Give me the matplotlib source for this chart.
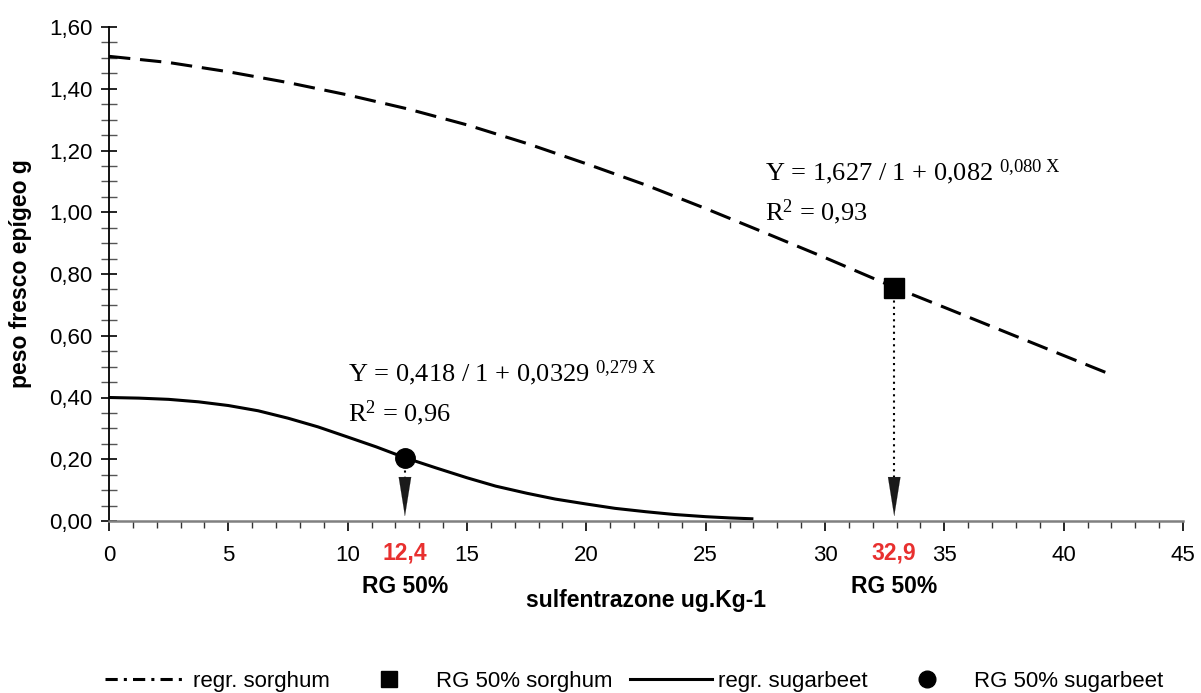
import matplotlib
matplotlib.use("Agg")
import matplotlib.pyplot as plt
from matplotlib.lines import Line2D
from matplotlib.ticker import MultipleLocator, FuncFormatter

# ---- data ----
sorghum_x = [0, 2.5, 5, 7.5, 10, 12.5, 15, 17.5, 20, 22.5, 25, 27.5, 30, 32.9, 35, 37.5, 40, 41.8]
sorghum_y = [1.505, 1.485, 1.455, 1.420, 1.380, 1.335, 1.283, 1.223, 1.157, 1.088, 1.012, 0.933,
             0.853, 0.757, 0.692, 0.614, 0.536, 0.480]
sugarbeet_x = [0, 1.25, 2.5, 3.75, 5, 6.25, 7.5, 8.75, 10, 11.2, 12.4, 13.7, 15, 16.2, 17.5,
               18.7, 20, 21.2, 22.5, 23.7, 25, 26, 27]
sugarbeet_y = [0.400, 0.398, 0.394, 0.386, 0.374, 0.357, 0.333, 0.305, 0.272, 0.240, 0.205,
               0.172, 0.140, 0.113, 0.090, 0.071, 0.055, 0.041, 0.030, 0.021, 0.014, 0.010, 0.007]
rg50_sorghum = (32.9, 0.755)
rg50_sugarbeet = (12.4, 0.205)
rg50_labels = ["12,4", "32,9"]
x_ticks = [0, 5, 10, 15, 20, 25, 30, 35, 40, 45]
y_ticks = [0.0, 0.2, 0.4, 0.6, 0.8, 1.0, 1.2, 1.4, 1.6]
eq_sorghum = ("Y = 1,627 / 1 + 0,082", "0,080 X", "0,93")
eq_sugarbeet = ("Y = 0,418 / 1 + 0,0329", "0,279 X", "0,96")
legend_labels = ["regr. sorghum", "RG 50% sorghum", "regr. sugarbeet", "RG 50% sugarbeet"]

plt.rcParams['font.family'] = ['Liberation Sans', 'DejaVu Sans']
plt.rcParams['mathtext.fontset'] = 'custom'
plt.rcParams['mathtext.rm'] = 'Liberation Serif'
plt.rcParams['mathtext.it'] = 'Liberation Serif'

fig = plt.figure(figsize=(12.01, 6.93), dpi=100)
ax = fig.add_axes([109/1201, 1-521/693, (1183-109)/1201, (521-27)/693])

ax.plot(sorghum_x, sorghum_y, color='black', lw=2.2, dashes=(7, 3.2), solid_capstyle='butt')
ax.plot(sugarbeet_x, sugarbeet_y, color='black', lw=2.2, solid_capstyle='butt')

# dotted drop lines + arrowheads
for (mx, my) in [rg50_sorghum, rg50_sugarbeet]:
    ax.plot([mx, mx], [my, 0.11], color='black', lw=1.5, dashes=(1, 2))
    ax.annotate('', xy=(mx, 0.015), xytext=(mx, 0.112),
                arrowprops=dict(arrowstyle='-|>,head_length=2.0,head_width=0.32',
                                color='#1a1a1a', lw=0.1, shrinkA=0, shrinkB=0,
                                mutation_scale=14))

ax.plot([rg50_sorghum[0]], [rg50_sorghum[1]], marker='s', ms=14.5, color='black', ls='none')
ax.plot([rg50_sugarbeet[0]], [rg50_sugarbeet[1]], marker='o', ms=14, color='black', ls='none')

ax.set_xlim(0, 45)
ax.set_ylim(0, 1.6)
ax.set_xticks(x_ticks)
ax.set_yticks(y_ticks)
ax.xaxis.set_minor_locator(MultipleLocator(1))
ax.yaxis.set_minor_locator(MultipleLocator(0.05))
ax.yaxis.set_major_formatter(FuncFormatter(lambda v, p: f"{v:.2f}".replace('.', ',')))
ax.xaxis.set_major_formatter(FuncFormatter(lambda v, p: f"{int(round(v))}"))

for s in ['top', 'right']:
    ax.spines[s].set_visible(False)
ax.spines['left'].set_color('black')
ax.spines['left'].set_linewidth(1.3)
ax.spines['bottom'].set_color('#808080')
ax.spines['bottom'].set_linewidth(1.8)

ax.tick_params(axis='y', which='major', direction='inout', length=12, width=1.2, labelsize=16, pad=6)
ax.tick_params(axis='y', which='minor', direction='inout', length=11, width=1.0, color='#555555')
ax.tick_params(axis='x', which='major', direction='out', length=7, width=1.2, labelsize=16, pad=10)
ax.tick_params(axis='x', which='minor', direction='out', length=5, width=1.0, color='#333333')

ax.set_ylabel("peso fresco epígeo g", fontsize=16.5, fontweight='bold', labelpad=12)
ax.set_xlabel("sulfentrazone ug.Kg-1", fontsize=16.5, fontweight='bold')
ax.xaxis.set_label_coords(0.5, -0.137)

# red RG 50% values and labels
for (mx, my), lab in zip([rg50_sugarbeet, rg50_sorghum], rg50_labels):
    ax.annotate(lab, xy=(mx, 0), xycoords='data', xytext=(0, -23), textcoords='offset points',
                ha='center', va='center', fontsize=16.5, fontweight='bold', color='#e8302f')
    ax.annotate("RG 50%", xy=(mx, 0), xycoords='data', xytext=(0, -47.5), textcoords='offset points',
                ha='center', va='center', fontsize=16.5, fontweight='bold', color='black')

# equations
serif = ['Liberation Serif', 'DejaVu Serif']
def eq(x, y, e):
    main, sup, r2 = e
    ax.text(x, y, main + r" $^{\mathrm{" + sup.replace(',', '{,}').replace(' ', r'\ ') + "}}$",
            fontsize=19, family=serif, ha='left', va='center')
    ax.text(x, y - 0.13, r"R$^{2}$ = " + r2, fontsize=19, family=serif, ha='left', va='center')

eq(27.5, 1.13, eq_sorghum)
eq(10.0, 0.48, eq_sugarbeet)

handles = [
    Line2D([], [], color='black', lw=2.2, dashes=(4, 2, 1, 2)),
    Line2D([], [], color='black', marker='s', ms=12, ls='none'),
    Line2D([], [], color='black', lw=2.2),
    Line2D([], [], color='black', marker='o', ms=12, ls='none'),
]
fig.legend(handles, legend_labels, loc='center', bbox_to_anchor=(0.528, 1-681/693), ncol=4,
           frameon=False, fontsize=16, handlelength=3.7, handletextpad=0.27, columnspacing=0.8)

fig.savefig("out.png", dpi=100, facecolor='white')
